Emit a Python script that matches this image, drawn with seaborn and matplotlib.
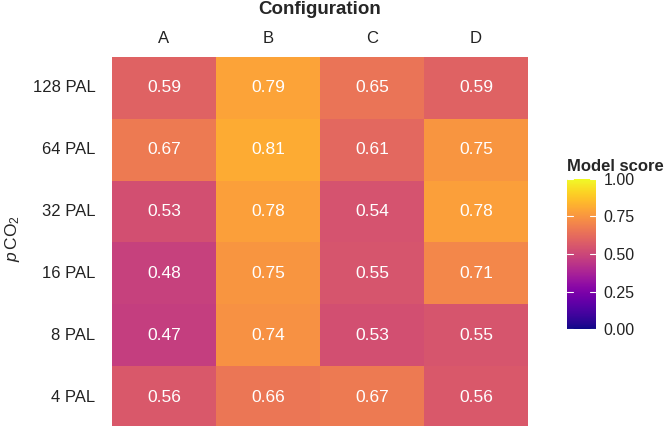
import numpy as np
import pandas as pd
import matplotlib
matplotlib.use("Agg")
import matplotlib.pyplot as plt
import seaborn as sns

configs = ["A", "B", "C", "D"]
levels = ["128 PAL", "64 PAL", "32 PAL", "16 PAL", "8 PAL", "4 PAL"]
score_A = [0.59, 0.67, 0.53, 0.48, 0.47, 0.56]
score_B = [0.79, 0.81, 0.78, 0.75, 0.74, 0.66]
score_C = [0.65, 0.61, 0.54, 0.55, 0.53, 0.67]
score_D = [0.59, 0.75, 0.78, 0.71, 0.55, 0.56]
cbar_ticks = [0.0, 0.25, 0.5, 0.75, 1.0]

sns.set_theme(style="white")
plt.rcParams["font.family"] = ["Liberation Sans", "DejaVu Sans"]
plt.rcParams["mathtext.fontset"] = "custom"
plt.rcParams["mathtext.rm"] = "Liberation Sans"
plt.rcParams["mathtext.it"] = "Liberation Sans:italic"

df = pd.DataFrame({"A": score_A, "B": score_B, "C": score_C, "D": score_D}, index=levels)

fig = plt.figure(figsize=(6.66, 4.26), dpi=100)
ax = fig.add_axes([112/666, (426-428)/426, (528-112)/666, (428-57)/426])
cax = fig.add_axes([567/666, (426-329)/426, 29/666, 150/426])

sns.heatmap(df, ax=ax, cmap="plasma", vmin=0, vmax=1, annot=True, fmt=".2f",
            annot_kws={"color": "white", "fontsize": 12.5},
            cbar_ax=cax, cbar_kws={"ticks": cbar_ticks})

ax.xaxis.tick_top()
ax.xaxis.set_label_position("top")
ax.set_xlabel("Configuration", fontsize=13.5, fontweight="bold", labelpad=12)
ax.set_ylabel(r"$p\,$CO$_2$", fontsize=12.5)
ax.yaxis.set_label_coords((22 - 112) / 416, 0.51)
ax.tick_params(axis="x", length=0, labelsize=12, pad=8, colors="#222222")
ax.tick_params(axis="y", length=0, labelsize=12, pad=12, colors="#222222", rotation=0)

cax.set_yticklabels(["0.00", "0.25", "0.50", "0.75", "1.00"])
cax.tick_params(axis="y", length=0, labelsize=11.5, pad=5.5, colors="#222222")
for t in cbar_ticks:
    cax.plot([0, 0.2], [t, t], color="white", lw=0.8, transform=cax.get_yaxis_transform())
    cax.plot([0.8, 1.0], [t, t], color="white", lw=0.8, transform=cax.get_yaxis_transform())
for s in cax.spines.values():
    s.set_visible(False)
cax.set_title("Model score", fontsize=12, fontweight="bold", loc="left", pad=6)

fig.savefig("out.png", dpi=100)
